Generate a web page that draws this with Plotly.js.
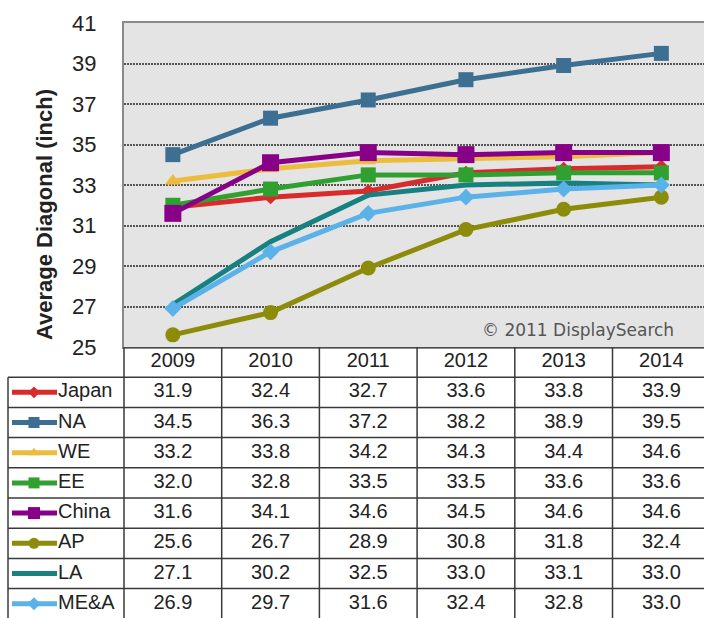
<!DOCTYPE html>
<html>
<head>
<meta charset="utf-8">
<script src="https://cdn.plot.ly/plotly-3.0.1.min.js"></script>
<style>html,body{margin:0;padding:0;background:#fff;}#chart{width:704px;height:618px;}</style>
</head>
<body>
<div id="chart"></div>
<script>
// ---- data ----
var years = ["2009", "2010", "2011", "2012", "2013", "2014"];
var seriesNames = ["Japan", "NA", "WE", "EE", "China", "AP", "LA", "ME&A"];
var japan = [31.9, 32.4, 32.7, 33.6, 33.8, 33.9];
var na    = [34.5, 36.3, 37.2, 38.2, 38.9, 39.5];
var we    = [33.2, 33.8, 34.2, 34.3, 34.4, 34.6];
var ee    = [32.0, 32.8, 33.5, 33.5, 33.6, 33.6];
var china = [31.6, 34.1, 34.6, 34.5, 34.6, 34.6];
var ap    = [25.6, 26.7, 28.9, 30.8, 31.8, 32.4];
var la    = [27.1, 30.2, 32.5, 33.0, 33.1, 33.0];
var mea   = [26.9, 29.7, 31.6, 32.4, 32.8, 33.0];
var yTicks = [25, 27, 29, 31, 33, 35, 37, 39, 41];

// ---- styles ----
var seriesValues = [japan, na, we, ee, china, ap, la, mea];
var colors  = ["#d92b2b", "#3d6f93", "#ecbc3c", "#30a030", "#880088", "#8c8c0a", "#178080", "#5ab2e8"];
var symbols = ["diamond", "square", "triangle-up", "square", "square", "circle", null, "diamond"];
var sizes   = [11, 15, 14, 15, 17, 15, 0, 13];
var legSizes= [9, 11, 10, 11, 12, 11, 0, 10];

var W = 704, H = 618;
var plotL = 124, plotT = 23, plotB = 347;
var colW = 97.7, rowH = 30.2;
var x0 = -0.5 - plotL / colW, x1 = -0.5 + (W - plotL) / colW;
function px2x(p) { return -0.5 + (p - plotL) / colW; }

var traces = [];
// chart lines
seriesNames.forEach(function (n, i) {
  traces.push({
    type: "scatter", x: years, y: seriesValues[i], name: n,
    xaxis: "x", yaxis: "y",
    mode: symbols[i] ? "lines+markers" : "lines",
    line: {color: colors[i], width: 5},
    marker: {symbol: symbols[i] || "circle", size: sizes[i], color: colors[i], line: {width: 0}},
    showlegend: false, hoverinfo: "skip", cliponaxis: false
  });
});

var tFont = {family: "Liberation Sans, Arial, sans-serif", size: 20, color: "#222"};
// table: header
traces.push({
  type: "scatter", xaxis: "x2", yaxis: "y2", mode: "text",
  x: years.map(function (_, j) { return j; }),
  y: years.map(function () { return 0.5; }),
  text: years, textposition: "middle center", textfont: tFont,
  showlegend: false, hoverinfo: "skip"
});
// table: values + legend keys
seriesNames.forEach(function (n, i) {
  traces.push({
    type: "scatter", xaxis: "x2", yaxis: "y2", mode: "text",
    x: seriesValues[i].map(function (_, j) { return j; }),
    y: seriesValues[i].map(function () { return i + 1.5; }),
    text: seriesValues[i].map(function (v) { return v.toFixed(1); }),
    textposition: "middle center", textfont: tFont,
    showlegend: false, hoverinfo: "skip"
  });
  traces.push({
    type: "scatter", xaxis: "x2", yaxis: "y2", mode: "lines",
    x: [px2x(12), px2x(57)], y: [i + 1.5, i + 1.5],
    line: {color: colors[i], width: 5},
    showlegend: false, hoverinfo: "skip"
  });
  if (symbols[i]) {
    traces.push({
      type: "scatter", xaxis: "x2", yaxis: "y2", mode: "markers",
      x: [px2x(34)], y: [i + 1.5],
      marker: {symbol: symbols[i], size: legSizes[i], color: colors[i], line: {width: 0}},
      showlegend: false, hoverinfo: "skip"
    });
  }
  traces.push({
    type: "scatter", xaxis: "x2", yaxis: "y2", mode: "text",
    x: [px2x(58)], y: [i + 1.5], text: [n], textposition: "middle right",
    textfont: tFont, showlegend: false, hoverinfo: "skip", cliponaxis: false
  });
});

// shapes
var nRows = seriesNames.length;
var legL = px2x(8);
var lineStyle = {color: "#3a3a3a", width: 1.5};
var shapes = [];
// gray background of chart area
shapes.push({type: "rect", xref: "x domain", yref: "y domain", x0: 0, x1: 1, y0: 0, y1: 1,
  fillcolor: "#e4e4e4", line: {width: 0}, layer: "below"});
// table grid
shapes.push({type: "line", xref: "x2", yref: "y2", x0: -0.5, x1: x1 + 1, y0: 0, y1: 0, line: lineStyle});
for (var k = 1; k <= nRows + 1; k++) {
  shapes.push({type: "line", xref: "x2", yref: "y2", x0: legL, x1: x1 + 1, y0: k, y1: k, line: lineStyle});
}
for (var j = 0; j <= years.length; j++) {
  shapes.push({type: "line", xref: "x2", yref: "y2", x0: j - 0.5, x1: j - 0.5, y0: 0, y1: nRows + 2, line: lineStyle});
}
shapes.push({type: "line", xref: "x2", yref: "y2", x0: legL, x1: legL, y0: 1, y1: nRows + 2, line: lineStyle});

var layout = {
  width: W, height: H,
  margin: {l: 0, r: 0, t: 0, b: 0},
  paper_bgcolor: "#ffffff",
  plot_bgcolor: "rgba(0,0,0,0)",
  font: {family: "Liberation Sans, Arial, sans-serif", color: "#222"},
  showlegend: false,
  xaxis: {
    type: "category", domain: [plotL / W, 1], anchor: "y",
    range: [-0.5, x1], showticklabels: false, ticks: "", showgrid: false,
    zeroline: false, showline: true, mirror: true, linecolor: "#8a8a8a", linewidth: 2,
    fixedrange: true
  },
  yaxis: {
    domain: [(H - plotB) / H, (H - plotT) / H], anchor: "x",
    range: [25, 41], tickvals: yTicks, ticktext: yTicks.map(String),
    showgrid: true, gridcolor: "#555555", griddash: "2px,1px", gridwidth: 2,
    zeroline: false, showline: true, linecolor: "#8a8a8a", linewidth: 2,
    ticks: "", ticklabelstandoff: 21,
    tickfont: {family: "Liberation Sans, Arial, sans-serif", size: 22, color: "#222"},
    fixedrange: true
  },
  xaxis2: {domain: [0, 1], anchor: "y2", range: [x0, x1], visible: false, fixedrange: true},
  yaxis2: {domain: [0, (H - plotB) / H], anchor: "x2", range: [(H - plotB) / rowH, 0], visible: false, fixedrange: true},
  shapes: shapes,
  annotations: [
    {
      text: "<b>Average Diagonal (inch)</b>", xref: "paper", yref: "paper",
      x: 44 / W, y: (H - 215) / H, xanchor: "center", yanchor: "middle",
      textangle: -90, showarrow: false,
      font: {family: "Liberation Sans, Arial, sans-serif", size: 22, color: "#222"}
    },
    {
      text: "© 2011 DisplaySearch", xref: "paper", yref: "paper",
      x: 676 / W, y: (H - 330) / H, xanchor: "right", yanchor: "middle",
      showarrow: false,
      font: {family: "DejaVu Sans, Verdana, sans-serif", size: 17, color: "#555"}
    }
  ]
};

Plotly.newPlot("chart", traces, layout, {staticPlot: true, displayModeBar: false});
</script>
</body>
</html>
